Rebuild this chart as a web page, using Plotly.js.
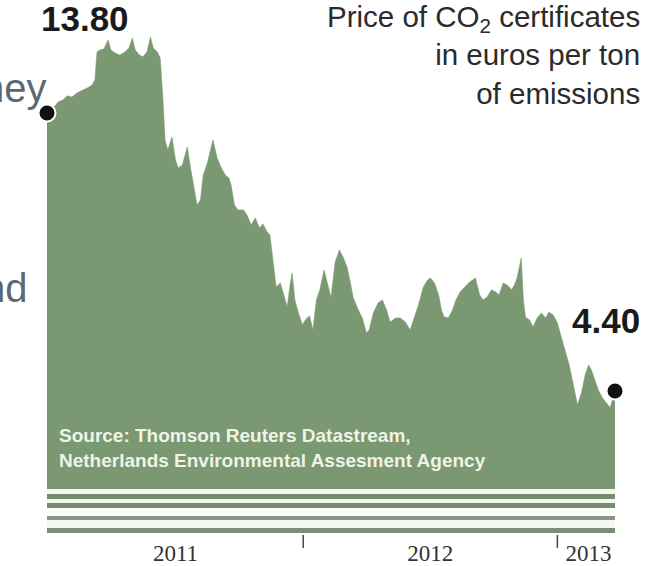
<!DOCTYPE html>
<html>
<head>
<meta charset="utf-8">
<script src="https://cdn.plot.ly/plotly-3.0.1.min.js"></script>
<style>html,body{margin:0;padding:0;background:#fff;}#chart{width:646px;height:566px;}</style>
</head>
<body>
<div id="chart"></div>
<script>
// ---- data ----
var dates = ['2010-12-28','2011-01-04','2011-01-13','2011-01-20','2011-01-26','2011-02-02','2011-02-09','2011-02-16','2011-02-24','2011-03-03',
'2011-03-07','2011-03-10','2011-03-14','2011-03-20','2011-03-26','2011-03-30','2011-04-05','2011-04-12','2011-04-19','2011-04-25',
'2011-04-30','2011-05-04','2011-05-10','2011-05-15','2011-05-21','2011-05-26','2011-05-30','2011-06-05','2011-06-09','2011-06-13',
'2011-06-16','2011-06-20','2011-06-26','2011-07-01','2011-07-05','2011-07-11','2011-07-18','2011-07-22','2011-07-28','2011-08-01',
'2011-08-06','2011-08-10','2011-08-16','2011-08-20','2011-08-24','2011-08-30','2011-09-05','2011-09-11','2011-09-16','2011-09-19',
'2011-09-24','2011-09-29','2011-10-07','2011-10-12','2011-10-18','2011-10-24','2011-10-30','2011-11-04','2011-11-10','2011-11-14',
'2011-11-19','2011-11-23','2011-11-29','2011-12-05','2011-12-09','2011-12-13','2011-12-16','2011-12-20','2011-12-25','2011-12-31',
'2012-01-04','2012-01-10','2012-01-15','2012-01-20','2012-01-25','2012-01-31','2012-02-05','2012-02-10','2012-02-16','2012-02-22',
'2012-02-28','2012-03-04','2012-03-09','2012-03-13','2012-03-19','2012-03-26','2012-04-01','2012-04-05','2012-04-11','2012-04-18',
'2012-04-24','2012-04-30','2012-05-05','2012-05-13','2012-05-20','2012-05-27','2012-06-03','2012-06-09','2012-06-15','2012-06-22',
'2012-06-28','2012-07-02','2012-07-08','2012-07-14','2012-07-18','2012-07-22','2012-07-28','2012-08-03','2012-08-08','2012-08-14',
'2012-08-20','2012-08-26','2012-09-01','2012-09-05','2012-09-11','2012-09-16','2012-09-22','2012-09-28','2012-10-04','2012-10-09',
'2012-10-15','2012-10-21','2012-10-27','2012-10-31','2012-11-04','2012-11-07','2012-11-10','2012-11-13','2012-11-16','2012-11-22',
'2012-11-27','2012-12-03','2012-12-09','2012-12-15','2012-12-20','2012-12-26','2013-01-01','2013-01-07','2013-01-12','2013-01-18',
'2013-01-24','2013-01-30','2013-02-05','2013-02-10','2013-02-15','2013-02-19','2013-02-23','2013-03-01','2013-03-07','2013-03-13',
'2013-03-18','2013-03-25'];

var prices = [13.80,13.90,14.17,14.24,14.38,14.34,14.48,14.55,14.65,14.75,
14.92,15.86,15.93,15.97,16.27,15.93,15.83,15.76,15.86,16.00,
16.34,15.93,15.76,15.70,15.86,16.37,16.00,15.86,15.66,14.24,
12.89,12.55,12.99,12.21,11.94,12.04,12.65,12.04,11.20,10.69,
10.86,11.70,12.11,12.55,12.89,12.28,11.94,11.70,11.60,11.37,
10.69,10.52,10.52,10.35,10.01,10.25,9.91,10.05,9.78,9.68,
8.76,7.92,8.05,7.55,7.24,7.98,8.39,7.48,7.04,6.63,
6.80,6.94,6.46,7.48,7.82,8.49,7.98,7.55,8.76,9.17,
8.90,8.59,8.05,7.55,7.21,6.87,6.36,6.46,7.04,7.38,
7.48,7.14,6.73,6.87,6.87,6.73,6.46,6.87,7.31,7.92,
8.15,8.22,8.05,7.65,7.14,6.90,6.87,7.14,7.48,7.75,
7.92,8.05,8.15,8.22,7.65,7.48,7.58,7.82,7.75,7.65,
8.05,7.98,7.82,7.98,8.22,8.56,8.90,7.48,6.90,6.80,
6.56,6.87,7.04,6.87,7.07,6.97,6.70,6.19,5.79,5.28,
4.60,3.93,4.37,4.94,5.28,5.11,4.84,4.43,4.16,3.99,
3.83,4.40];

var yearLabels = ['2011','2012','2013'];
var yearLabelDates = ['2011-07-01','2012-07-02','2013-02-15'];
var yearBoundaries = ['2012-01-01','2013-01-01'];
var xRange = ['2010-12-28','2013-03-25'];

var titleLines = ['Price of CO<sub>2</sub> certificates','in euros per ton','of emissions'];
var sourceLines = ['Source: Thomson Reuters Datastream,','Netherlands Environmental Assesment Agency'];

// ---- layout helpers (pixel -> paper) ----
var L = 47, R = 615, T = 30, B = 535;
function px(x){ return (x - L) / (R - L); }
function py(y){ return (B - y) / (B - T); }

var green = '#7a9872';
var last = prices.length - 1;

var traces = [
  {
    x: dates, y: prices, type: 'scatter', mode: 'lines',
    fill: 'tozeroy', fillcolor: green,
    line: {color: green, width: 0.6},
    hoverinfo: 'skip'
  },
  {
    x: [dates[0], dates[last]], y: [prices[0], prices[last]],
    type: 'scatter', mode: 'markers', cliponaxis: false,
    marker: {size: 17, color: '#111', line: {color: '#fff', width: 2}},
    hoverinfo: 'skip'
  }
];

var shapes = [];
function band(y0, y1, color){
  shapes.push({type:'rect', xref:'paper', yref:'paper', x0:0, x1:1, y0:py(y1), y1:py(y0),
    fillcolor:color, line:{width:0}, layer:'above'});
}
band(489, 535, '#f4f8ef');
band(494, 499, '#758f6e');
band(503, 508, '#758f6e');
band(508, 516, '#fbfdf9');
band(516, 520, '#8d938e');
band(528, 533, '#7c8d78');
band(533, 535, '#ffffff');
yearBoundaries.forEach(function(d){
  shapes.push({type:'line', xref:'x', yref:'paper', x0:d, x1:d, y0:py(535), y1:py(548),
    line:{color:'#444', width:1.5}});
});

var annotations = [
  {xref:'paper', yref:'paper', x:px(641), y:py(-1), xanchor:'right', yanchor:'top', align:'right',
   text: titleLines.join('<br>'), showarrow:false, borderpad:0,
   font:{family:'Liberation Sans, Arial, sans-serif', size:29.5, color:'#2b2b2b'}},
  {xref:'paper', yref:'paper', x:px(85), y:py(19), xanchor:'center', yanchor:'middle',
   text: prices[0].toFixed(2), showarrow:false,
   font:{family:'Liberation Sans, Arial, sans-serif', size:35, color:'#1a1a1a', weight:700}},
  {xref:'paper', yref:'paper', x:px(606), y:py(320), xanchor:'center', yanchor:'middle',
   text: prices[last].toFixed(2), showarrow:false,
   font:{family:'Liberation Sans, Arial, sans-serif', size:35, color:'#1a1a1a', weight:700}},
  {xref:'paper', yref:'paper', x:px(57), y:py(448), xanchor:'left', yanchor:'middle', align:'left',
   text: sourceLines.join('<br>'), showarrow:false,
   font:{family:'Liberation Sans, Arial, sans-serif', size:19, color:'#eef4e6', weight:700}},
  {xref:'paper', yref:'paper', x:px(-20), y:py(88), xanchor:'left', yanchor:'middle',
   text:'ney', showarrow:false,
   font:{family:'Liberation Sans, Arial, sans-serif', size:40, color:'#5d6873'}},
  {xref:'paper', yref:'paper', x:px(-19), y:py(288), xanchor:'left', yanchor:'middle',
   text:'nd', showarrow:false,
   font:{family:'Liberation Sans, Arial, sans-serif', size:40, color:'#5d6873'}}
];

var layout = {
  width: 646, height: 566,
  margin: {l: L, r: 646 - R, t: T, b: 566 - B, pad: 0},
  paper_bgcolor: '#ffffff', plot_bgcolor: '#ffffff',
  showlegend: false,
  xaxis: {
    type: 'date', range: xRange, showgrid: false, zeroline: false, showline: false,
    tickmode: 'array', tickvals: yearLabelDates, ticktext: yearLabels, ticks: '',
    ticklabelstandoff: 2,
    tickfont: {family: 'Liberation Serif, Times New Roman, serif', size: 23, color: '#333'},
    fixedrange: true
  },
  yaxis: {
    range: [-0.470, 16.608], visible: false, fixedrange: true
  },
  shapes: shapes,
  annotations: annotations
};

Plotly.newPlot('chart', traces, layout, {displayModeBar: false, staticPlot: true});
</script>
</body>
</html>
